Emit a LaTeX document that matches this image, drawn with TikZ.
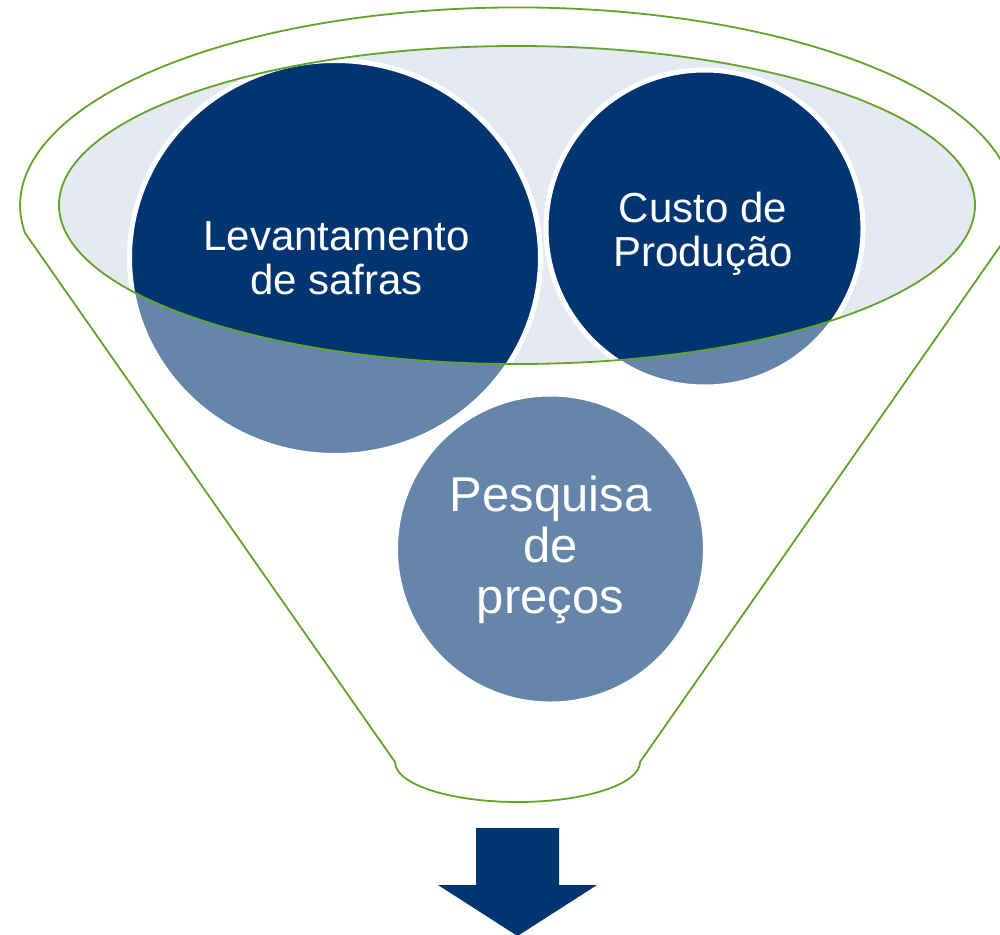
\documentclass[tikz,border=0pt]{standalone}
\usepackage{fontspec}
\setmainfont{Liberation Sans}
\definecolor{navy}{HTML}{003572}
\definecolor{lightblue}{HTML}{6685AB}
\definecolor{ellfill}{HTML}{E4E9F2}
\definecolor{funnelgreen}{HTML}{62A32A}
\tikzset{
  outline/.style={draw=funnelgreen, line width=1.8pt},
  bubbleborder/.style={draw=white, line width=5pt},
  lbl/.style={text=white, align=center, anchor=base, inner sep=0pt},
  lblsmall/.style={lbl, font=\fontsize{42pt}{44pt}\selectfont},
  lblbig/.style={lbl, font=\fontsize{49pt}{51pt}\selectfont},
}
\def\ellpath{(517,205) ellipse[x radius=458pt, y radius=159pt]}
\def\levpath{(335,258) ellipse[x radius=205.5pt, y radius=197.5pt]}
\def\cuspath{(704.5,228.5) circle[radius=158.5pt]}
\def\pespath{(550.5,549) circle[radius=155pt]}
\begin{document}
\begin{tikzpicture}[x=1pt,y=-1pt]
\useasboundingbox (0,0) rectangle (1000,934);
% funnel outline
\draw[outline] (25,233) arc[start angle=188, end angle=-8, x radius=497pt, y radius=198pt]
  -- (640,762) arc[start angle=0, end angle=-180, x radius=122.5pt, y radius=40pt] -- cycle;
% inner ellipse fill
\fill[ellfill] \ellpath;
% Levantamento
\fill[lightblue] \levpath;
\begin{scope}\clip \ellpath; \fill[navy] \levpath; \end{scope}
\path[bubbleborder] \levpath;
% Custo
\fill[lightblue] \cuspath;
\begin{scope}\clip \ellpath; \fill[navy] \cuspath; \end{scope}
\path[bubbleborder] \cuspath;
% Pesquisa
\fill[lightblue] \pespath;
\path[bubbleborder] \pespath;
% inner ellipse outline
\path[outline] \ellpath;
% labels (anchor = baseline of last line)
\node[lblsmall] (lev) at (336.5,294) {Levantamento\\de safras};
\node[lblsmall] (cus) at (703,266) {Custo de\\Produção};
\node[lblbig] (pes) at (550.5,613) {Pesquisa\\de\\preços};
% arrow
\fill[navy] (476,828) -- (559,828) -- (559,885) -- (597,885) -- (517.5,936)
  -- (438,885) -- (476,885) -- cycle;
\end{tikzpicture}
\end{document}
